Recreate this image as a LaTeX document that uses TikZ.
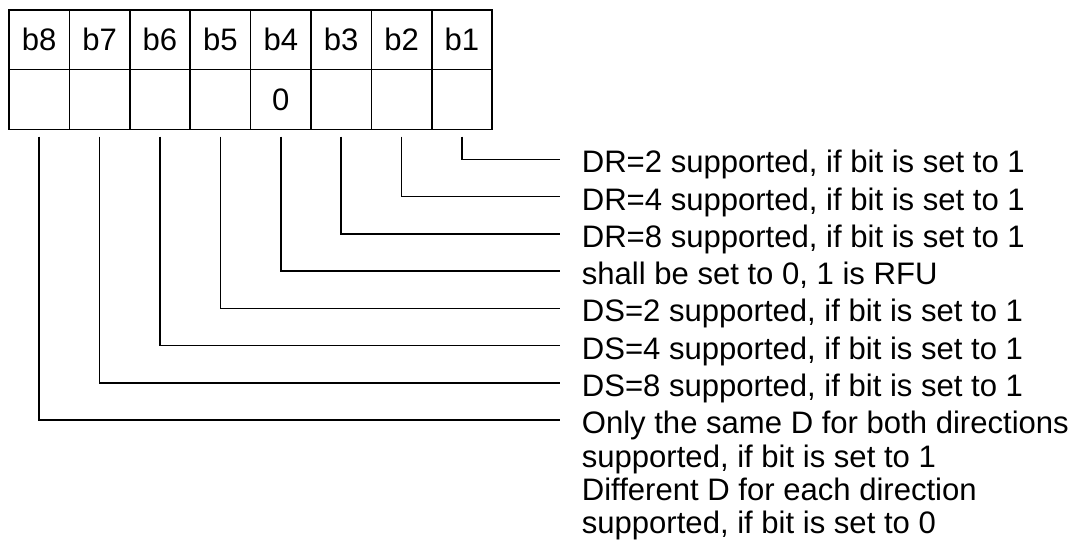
\documentclass[tikz,border=0pt]{standalone}
\usepackage{fontspec}
\setmainfont{Liberation Sans}
\tikzset{
  bitcell/.style={draw, line width=1.1pt, minimum width=45.3pt, minimum height=44.8pt,
    inner sep=0pt, font=\fontsize{23.3pt}{27.9pt}\selectfont},
  desc/.style={anchor=west, inner xsep=16.2pt, inner ysep=0pt, text height=20.5pt,
    text depth=0pt, font=\fontsize{23.3pt}{27.9pt}\selectfont},
  leader/.style={line width=1.1pt, shorten <=4.9pt}
}
\begin{document}
\begin{tikzpicture}[x=0.75pt, y=-0.75pt]
      \useasboundingbox (0,0) rectangle (1090,544);
      \draw
        (39.2,39.75) node[bitcell] (h8){b8}
        (99.6,39.75) node[bitcell] (h7){b7}
        (160.0,39.75) node[bitcell] (h6){b6}
        (220.4,39.75) node[bitcell] (h5){b5}
        (280.8,39.75) node[bitcell] (h4){b4}
        (341.2,39.75) node[bitcell] (h3){b3}
        (401.6,39.75) node[bitcell] (h2){b2}
        (462.0,39.75) node[bitcell] (h1){b1};
      \draw
        (39.2,99.5) node[bitcell] (v8){}
        (99.6,99.5) node[bitcell] (v7){}
        (160.0,99.5) node[bitcell] (v6){}
        (220.4,99.5) node[bitcell] (v5){}
        (280.8,99.5) node[bitcell] (v4){0}
        (341.2,99.5) node[bitcell] (v3){}
        (401.6,99.5) node[bitcell] (v2){}
        (462.0,99.5) node[bitcell] (v1){};
      \draw
        (560,159.3) node[desc] (t1){DR=2 supported, if bit is set to 1}
        (560,196.55) node[desc] (t2){DR=4 supported, if bit is set to 1}
        (560,233.8) node[desc] (t3){DR=8 supported, if bit is set to 1}
        (560,271.05) node[desc] (t4){shall be set to 0, 1 is RFU}
        (560,308.3) node[desc] (t5){DS=2 supported, if bit is set to 1}
        (560,345.55) node[desc] (t6){DS=4 supported, if bit is set to 1}
        (560,382.8) node[desc] (t7){DS=8 supported, if bit is set to 1}
        (560,420.05) node[desc] (t8){Only the same D for both directions}
        (560,453.35) node[desc] (t9){supported, if bit is set to 1}
        (560,486.65) node[desc] (t10){Different D for each direction}
        (560,519.95) node[desc] (t11){supported, if bit is set to 0};
      \begin{scope}[leader]
        \draw (v1.south) |- (t1.west);
        \draw (v2.south) |- (t2.west);
        \draw (v3.south) |- (t3.west);
        \draw (v4.south) |- (t4.west);
        \draw (v5.south) |- (t5.west);
        \draw (v6.south) |- (t6.west);
        \draw (v7.south) |- (t7.west);
        \draw (v8.south) |- (t8.west);
      \end{scope}
    \end{tikzpicture}
\end{document}
